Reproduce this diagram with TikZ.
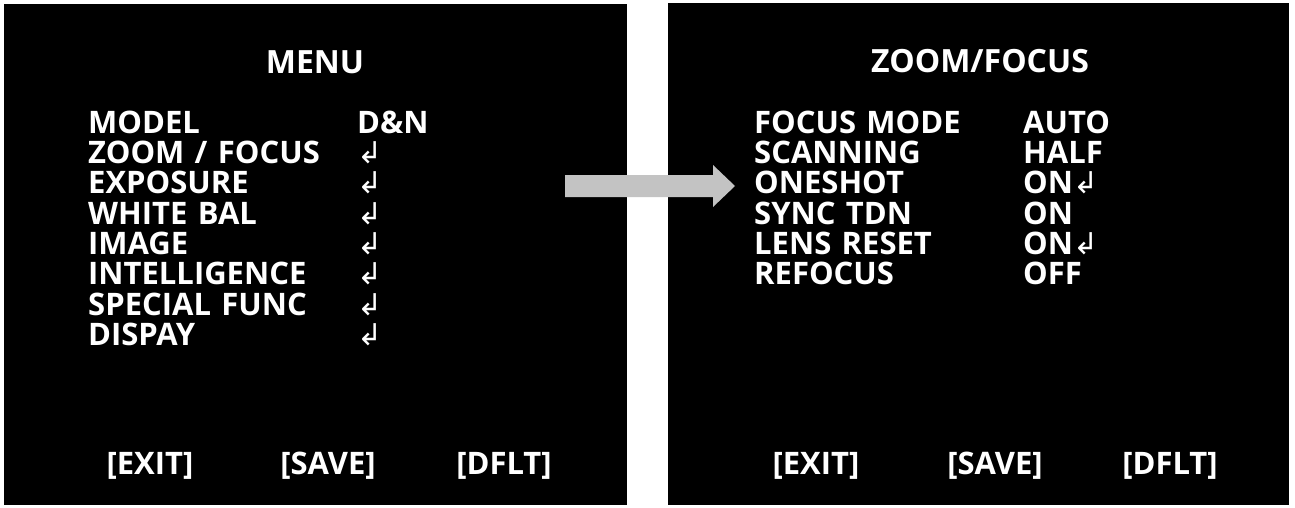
\documentclass[tikz,border=0pt]{standalone}
\usepackage{fontspec}
\setmainfont{Open Sans}
\newfontfamily\symfont{DejaVu Sans}
\usepackage{tikz}
\usetikzlibrary{matrix,positioning}
\definecolor{arrowgray}{RGB}{195,195,195}
\tikzset{osd text/.style={
    text=white,
    font=\bfseries\fontsize{31}{36}\selectfont
  },
  osd title/.style={osd text, font=\bfseries\fontsize{32}{38}\selectfont, anchor=base},
  osd button/.style={osd text, anchor=base},
  osd menu/.style={
    matrix of nodes,
    inner sep=0pt, anchor=north west,
    column sep=0pt, row sep=0pt,
    nodes={osd text,
      anchor=base west,
      inner sep=0pt,
      text height=22pt,
      text depth=8.3pt
    },
    column 1/.style={nodes={text width=269pt}}
  }
}
\newcommand{\enterkey}{{\symfont\mdseries\fontsize{30}{30}\selectfont\char"21B2}}

\begin{document}
\begin{tikzpicture}[x=1pt,y=-1pt]
    \fill[white] (0,0) rectangle (1295,508);
    \useasboundingbox (0,0) rectangle (1295,508);
    % screens
    \fill[black] (4,4) rectangle (627,505);
    \fill[black] (668,3) rectangle (1289,505);
    % main menu
    \node[osd title] (menutitle) at (315,74) {MENU};
    \matrix[osd menu] (mainmenu) at (88,111) {
        MODEL        & D\&N \\
        ZOOM / FOCUS & \enterkey \\
        EXPOSURE     & \enterkey \\
        WHITE BAL    & \enterkey \\
        IMAGE        & \enterkey \\
        INTELLIGENCE & \enterkey \\
        SPECIAL FUNC & \enterkey \\
        DISPAY       & \enterkey \\
    };
    \node[osd button] (exitl) at (150,474) {[EXIT]};
    \node[osd button] (savel) at (328,474) {[SAVE]};
    \node[osd button] (dfltl) at (504,474) {[DFLT]};
    % zoom/focus menu
    \node[osd title] (zoomtitle) at (980,73) {ZOOM/FOCUS};
    \matrix[osd menu] (zoommenu) at (754,111) {
        FOCUS MODE & AUTO \\
        SCANNING   & HALF \\
        ONESHOT    & ON\enterkey \\
        SYNC TDN   & ON \\
        LENS RESET & ON\enterkey \\
        REFOCUS    & OFF \\
    };
    \node[osd button] (exitr) at (816,474) {[EXIT]};
    \node[osd button] (saver) at (995,474) {[SAVE]};
    \node[osd button] (dfltr) at (1170,474) {[DFLT]};
    % arrow
    \fill[arrowgray] (565,175) -- (713,175) -- (713,165) -- (735,186)
        -- (713,207) -- (713,197) -- (565,197) -- cycle;
\end{tikzpicture}
\end{document}
